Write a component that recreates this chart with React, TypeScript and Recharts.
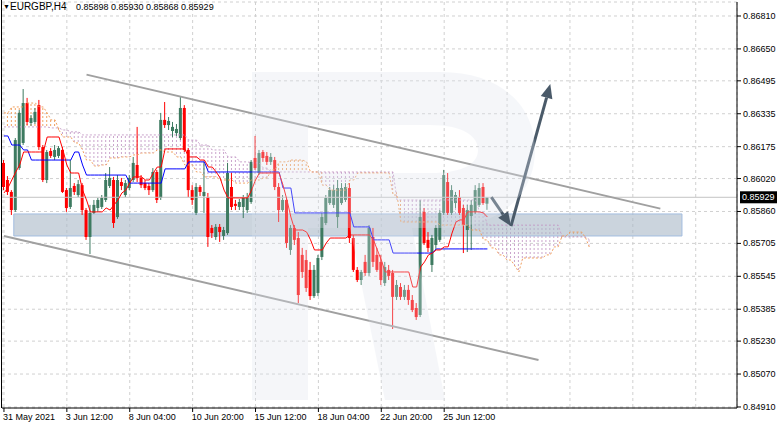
import React from "react";
import {
  Area,
  Bar,
  CartesianGrid,
  ComposedChart,
  Line,
  ReferenceArea,
  ReferenceLine,
  XAxis,
  YAxis,
} from "recharts";

const W = 782;
const H = 428;
const BARS = 187;
const BAND = 735 / BARS;
const FONT = '"Liberation Sans", Arial, sans-serif';

const symbol = "EURGBP,H4";
const lastQuote = [0.85898, 0.8593, 0.85868, 0.85929];
const bidPrice = 0.85929;

const tickBars = [0, 16, 32, 48, 64, 80, 96, 112, 128, 144, 160, 176];
const tickLabels = [
  "31 May 2021",
  "3 Jun 12:00",
  "8 Jun 04:00",
  "10 Jun 20:00",
  "15 Jun 12:00",
  "18 Jun 04:00",
  "22 Jun 20:00",
  "25 Jun 12:00",
  "",
  "",
  "",
  "",
];
const priceTicks = [
  0.8681, 0.8665, 0.86495, 0.86335, 0.86175, 0.8602, 0.8586, 0.85705, 0.85545,
  0.85385, 0.8523, 0.8507, 0.8491,
];

// open, high, low, close per H4 bar
const candles: [number, number, number, number][] = [
  [0.86096, 0.8611, 0.85964, 0.85979],
  [0.86013, 0.86032, 0.8594, 0.85955],
  [0.85955, 0.85964, 0.85843, 0.85867],
  [0.85867, 0.86217, 0.85858, 0.86207],
  [0.86071, 0.86353, 0.86062, 0.86339],
  [0.86193, 0.86455, 0.86183, 0.86387],
  [0.86387, 0.86412, 0.8628, 0.86295],
  [0.8629, 0.86329, 0.86276, 0.86314],
  [0.86295, 0.86363, 0.86285, 0.86344],
  [0.86377, 0.86402, 0.86159, 0.86173],
  [0.86173, 0.86183, 0.86003, 0.86013],
  [0.86013, 0.86159, 0.85998, 0.86149],
  [0.86154, 0.86168, 0.8612, 0.8613],
  [0.86125, 0.86183, 0.8611, 0.86159],
  [0.8613, 0.86178, 0.8612, 0.86168],
  [0.86159, 0.86173, 0.8595, 0.85955],
  [0.85964, 0.85974, 0.85858, 0.85877],
  [0.85882, 0.8611, 0.85872, 0.85974],
  [0.85984, 0.85998, 0.8594, 0.85955],
  [0.8594, 0.86013, 0.8593, 0.85993],
  [0.85988, 0.85998, 0.85843, 0.85867],
  [0.85867, 0.85877, 0.85722, 0.85736],
  [0.85736, 0.85892, 0.85653, 0.85853],
  [0.85853, 0.85916, 0.85848, 0.85892],
  [0.85877, 0.85926, 0.85858, 0.85916],
  [0.85882, 0.8594, 0.85872, 0.85926],
  [0.85916, 0.86047, 0.85906, 0.86013],
  [0.85984, 0.86076, 0.85974, 0.86023],
  [0.86013, 0.86028, 0.8578, 0.85804],
  [0.85833, 0.86037, 0.85824, 0.86013],
  [0.86003, 0.86023, 0.85964, 0.85984],
  [0.8594, 0.86013, 0.8593, 0.85998],
  [0.85974, 0.86037, 0.85964, 0.86023],
  [0.86013, 0.86125, 0.86003, 0.86096],
  [0.86086, 0.86271, 0.86003, 0.86023],
  [0.86023, 0.86037, 0.85974, 0.85988],
  [0.85998, 0.86013, 0.85964, 0.85974],
  [0.85984, 0.85998, 0.8594, 0.85964],
  [0.85964, 0.86071, 0.85955, 0.86052],
  [0.86052, 0.86062, 0.85901, 0.85916],
  [0.85926, 0.86339, 0.85916, 0.86305],
  [0.86305, 0.86392, 0.86266, 0.8628],
  [0.8628, 0.86319, 0.86256, 0.863],
  [0.86251, 0.86295, 0.86222, 0.86271],
  [0.86241, 0.86285, 0.86227, 0.86261],
  [0.86217, 0.86421, 0.86207, 0.86363],
  [0.86363, 0.86377, 0.86149, 0.86159],
  [0.86159, 0.86168, 0.8593, 0.85964],
  [0.85964, 0.85988, 0.85892, 0.85916],
  [0.85853, 0.85998, 0.85843, 0.85979],
  [0.85979, 0.85988, 0.85935, 0.85955],
  [0.85935, 0.86101, 0.85853, 0.85955],
  [0.8593, 0.8595, 0.85688, 0.85736],
  [0.8578, 0.85794, 0.85731, 0.85755],
  [0.85736, 0.85799, 0.85722, 0.85785],
  [0.85785, 0.85799, 0.85712, 0.8576],
  [0.85741, 0.85785, 0.85722, 0.8577],
  [0.85755, 0.86096, 0.85746, 0.86047],
  [0.85979, 0.86047, 0.85867, 0.85882],
  [0.85897, 0.85916, 0.85867, 0.85887],
  [0.85882, 0.85921, 0.85867, 0.85906],
  [0.85882, 0.8594, 0.85828, 0.85926],
  [0.85867, 0.8595, 0.85853, 0.8593],
  [0.85906, 0.8611, 0.85897, 0.86101],
  [0.8612, 0.86227, 0.86062, 0.86071],
  [0.86047, 0.86159, 0.86037, 0.86144],
  [0.86149, 0.86159, 0.86101, 0.8612],
  [0.8613, 0.86149, 0.86086, 0.86101],
  [0.86101, 0.86144, 0.86086, 0.86125],
  [0.8611, 0.86125, 0.85964, 0.85979],
  [0.85979, 0.85998, 0.85809, 0.85867],
  [0.85867, 0.8594, 0.85858, 0.85916],
  [0.85916, 0.8593, 0.85683, 0.85707],
  [0.85673, 0.85794, 0.85649, 0.8578],
  [0.8578, 0.85794, 0.85697, 0.85722],
  [0.85731, 0.8576, 0.85415, 0.85454],
  [0.85649, 0.85683, 0.85537, 0.85566],
  [0.85624, 0.85673, 0.85469, 0.85488],
  [0.85576, 0.85615, 0.8543, 0.85449],
  [0.85449, 0.856, 0.8544, 0.85576],
  [0.85464, 0.85649, 0.85449, 0.85634],
  [0.85639, 0.85853, 0.85624, 0.85833],
  [0.85804, 0.8594, 0.85794, 0.85926],
  [0.85901, 0.85979, 0.85892, 0.85964],
  [0.85892, 0.85988, 0.85877, 0.85964],
  [0.85833, 0.86013, 0.8578, 0.85974],
  [0.85901, 0.85998, 0.85892, 0.85974],
  [0.85916, 0.85998, 0.85906, 0.85979],
  [0.85974, 0.85998, 0.85707, 0.85731],
  [0.85731, 0.85746, 0.85566, 0.85576],
  [0.85576, 0.8559, 0.85517, 0.85527],
  [0.85527, 0.85576, 0.85503, 0.85566],
  [0.85615, 0.85649, 0.85547, 0.85561],
  [0.85561, 0.85794, 0.85547, 0.8578],
  [0.85736, 0.8578, 0.8559, 0.85615],
  [0.85649, 0.85683, 0.85566, 0.85576],
  [0.85615, 0.85649, 0.85503, 0.85527],
  [0.85512, 0.85615, 0.85498, 0.8559],
  [0.85576, 0.856, 0.85527, 0.85547],
  [0.85561, 0.85576, 0.85289, 0.85445],
  [0.85445, 0.85527, 0.8543, 0.85503],
  [0.85493, 0.85512, 0.8543, 0.85445],
  [0.85445, 0.85503, 0.8543, 0.85479],
  [0.85479, 0.85503, 0.85406, 0.8543],
  [0.8543, 0.85454, 0.85371, 0.85381],
  [0.85391, 0.85415, 0.85333, 0.85347],
  [0.85357, 0.85916, 0.85347, 0.85833],
  [0.85858, 0.85877, 0.85697, 0.85707],
  [0.85722, 0.8576, 0.85663, 0.85683],
  [0.856, 0.85746, 0.85566, 0.85731],
  [0.85697, 0.85794, 0.85673, 0.8578],
  [0.85722, 0.85867, 0.85712, 0.85853],
  [0.85853, 0.86062, 0.85843, 0.86037],
  [0.86003, 0.86047, 0.85843, 0.85853],
  [0.85853, 0.85988, 0.85843, 0.85964],
  [0.85901, 0.85955, 0.85877, 0.8594],
  [0.8593, 0.85964, 0.85843, 0.85853],
  [0.85877, 0.85892, 0.85658, 0.85794],
  [0.8577, 0.85892, 0.85663, 0.85867],
  [0.85838, 0.85916, 0.85673, 0.85892],
  [0.85858, 0.85988, 0.85848, 0.85964],
  [0.85892, 0.85998, 0.85882, 0.85974],
  [0.85979, 0.85998, 0.85892, 0.85901],
  [0.85898, 0.8593, 0.85868, 0.85929],
];

// Ichimoku lines, read as [first bar, level] steps
const tenkanSteps: [number, number][] = [
  [0, 0.8595], [1, 0.85974], [2, 0.86013], [3, 0.86052], [4, 0.86086], [5, 0.86149],
  [11, 0.86222], [15, 0.86159], [16, 0.86086], [17, 0.86047], [20, 0.85964], [21, 0.85916],
  [22, 0.85858], [26, 0.85877], [27, 0.85867], [28, 0.85892], [29, 0.85916], [30, 0.8595],
  [31, 0.85964], [32, 0.85998], [33, 0.86028], [36, 0.86013], [38, 0.86047], [39, 0.86076],
  [41, 0.86164], [47, 0.86125], [50, 0.8611], [52, 0.86076], [54, 0.86052], [55, 0.86023],
  [56, 0.85964], [57, 0.85926], [63, 0.85964], [64, 0.86013], [65, 0.86047], [71, 0.85988],
  [72, 0.85916], [73, 0.85833], [74, 0.8577], [77, 0.8576], [78, 0.85722], [79, 0.85673],
  [82, 0.85707], [83, 0.85731], [88, 0.85746], [94, 0.85722], [95, 0.85673], [96, 0.85624],
  [97, 0.85566], [104, 0.85493], [106, 0.8559], [107, 0.85615], [108, 0.85649], [109, 0.85658],
  [110, 0.85673], [112, 0.85688], [114, 0.85755], [115, 0.85809], [116, 0.85819], [118, 0.85858],
  [122, 0.85853], [123, 0.85833],
];
const kijunSteps: [number, number][] = [
  [0, 0.86227], [2, 0.86183], [5, 0.86159], [7, 0.8611], [18, 0.86149], [20, 0.86086],
  [21, 0.86037], [32, 0.85998], [41, 0.86067], [47, 0.86101], [52, 0.86052], [71, 0.85974],
  [74, 0.85853], [89, 0.85785], [94, 0.85722], [99, 0.85658], [110, 0.85678],
];
const spanASteps: [number, number][] = [
  [0, 0.86339], [2, 0.86368], [6, 0.86387], [9, 0.86368], [11, 0.86339], [12, 0.86305],
  [14, 0.86256], [15, 0.86222], [18, 0.86193], [20, 0.86159], [21, 0.8611], [23, 0.86081],
  [25, 0.86086], [27, 0.8612], [30, 0.86125], [33, 0.86135], [35, 0.86144], [39, 0.86159],
  [41, 0.86149], [44, 0.86125], [46, 0.86086], [49, 0.86052], [51, 0.86028], [55, 0.86013],
  [59, 0.85998], [63, 0.86013], [66, 0.86023], [68, 0.86062], [70, 0.86101], [73, 0.8611],
  [77, 0.86101], [78, 0.86052], [81, 0.85988], [83, 0.85964], [88, 0.86013], [90, 0.86047],
  [99, 0.8594], [101, 0.85809], [111, 0.85794], [119, 0.8577], [122, 0.85722], [124, 0.85683],
  [126, 0.85649], [128, 0.85624], [130, 0.85595], [131, 0.85566], [132, 0.85634], [138, 0.85649],
  [140, 0.85688], [142, 0.85741], [144, 0.8576], [148, 0.85731], [149, 0.85683],
];
const spanBSteps: [number, number][] = [
  [0, 0.86271], [12, 0.86266], [15, 0.86256], [17, 0.86247], [20, 0.86232], [47, 0.86207],
  [50, 0.86183], [53, 0.86159], [57, 0.86125], [60, 0.86101], [63, 0.86096], [66, 0.86071],
  [68, 0.86052], [100, 0.85916], [121, 0.85858], [123, 0.85794], [142, 0.85736], [149, 0.85722],
];

// drawn objects: channel, zone, forecast arrows (bar, price)
const channelTop = [
  { x: 21, y: 0.86525 },
  { x: 167, y: 0.85874 },
];
const channelBottom = [
  { x: 0, y: 0.85741 },
  { x: 136, y: 0.85138 },
];
const zone = { from: 3, to: 172, low: 0.85741, high: 0.85848 };
const forecast = [
  { x: 124, y: 0.8593 },
  { x: 129, y: 0.85789 },
  { x: 139, y: 0.86479 },
];

function fromSteps(steps: [number, number][], last: number) {
  const out: (number | null)[] = [];
  let k = 0;
  for (let i = 0; i < BARS; i++) {
    if (i > last) {
      out.push(null);
      continue;
    }
    while (k + 1 < steps.length && steps[k + 1][0] <= i) k++;
    out.push(steps[k][1]);
  }
  return out;
}

const tenkan = fromSteps(tenkanSteps, candles.length - 1);
const kijun = fromSteps(kijunSteps, candles.length - 1);
const spanA = fromSteps(spanASteps, 149);
const spanB = fromSteps(spanBSteps, 149);

const isUp = (i: number) =>
  i >= 0 && spanA[i] != null && (spanA[i] as number) >= (spanB[i] as number);
const isDown = (i: number) =>
  i >= 0 && spanA[i] != null && (spanA[i] as number) < (spanB[i] as number);

const rows = Array.from({ length: BARS }, (_, i) => {
  const c = candles[i];
  const a = spanA[i];
  const b = spanB[i];
  const band = a == null || b == null ? null : [Math.min(a, b), Math.max(a, b)];
  return {
    i,
    o: c ? c[0] : null,
    h: c ? c[1] : null,
    l: c ? c[2] : null,
    c: c ? c[3] : null,
    tenkan: tenkan[i],
    kijun: kijun[i],
    spanA: a,
    spanB: b,
    cloudUp: band && (isUp(i) || isUp(i - 1) || isUp(i + 1)) ? band : null,
    cloudDown: band && (isDown(i) || isDown(i - 1) || isDown(i + 1)) ? band : null,
  };
});

function Candle(props: any) {
  const { x, y, width, height, payload } = props;
  if (payload.o == null || y == null || height == null) return <g />;
  const top = Math.min(y, y + height);
  const span = Math.abs(height);
  const range = payload.h - payload.l || 1e-9;
  const py = (v: number) => top + ((payload.h - v) / range) * span;
  const up = payload.c >= payload.o;
  const color = up ? "#3d7a60" : "#ff0000";
  const cx = x + width / 2;
  const bTop = py(Math.max(payload.o, payload.c));
  const bBot = py(Math.min(payload.o, payload.c));
  return (
    <g>
      <line x1={cx} x2={cx} y1={top} y2={top + span} stroke={color} strokeWidth={1} />
      <rect x={cx - 1.5} y={bTop} width={3} height={Math.max(1, bBot - bTop)} fill={color} />
    </g>
  );
}

function Arrow(props: any) {
  const { x1, y1, x2, y2 } = props;
  const ang = Math.atan2(y2 - y1, x2 - x1);
  const len = 14;
  const half = 6;
  const bx = x2 - len * Math.cos(ang);
  const by = y2 - len * Math.sin(ang);
  const px = -Math.sin(ang) * half;
  const py = Math.cos(ang) * half;
  return (
    <g>
      <line x1={x1} y1={y1} x2={bx} y2={by} stroke="#4a5a69" strokeWidth={3} />
      <polygon
        points={`${x2},${y2} ${bx + px},${by + py} ${bx - px},${by - py}`}
        fill="#4a5a69"
      />
    </g>
  );
}

function TimeTick(props: any) {
  const { x, y, payload } = props;
  const label = tickLabels[tickBars.indexOf(payload.value)];
  if (!label) return <g />;
  return (
    <g>
      <line x1={x} x2={x} y1={y} y2={y + 4} stroke="#000" />
      <text x={x - 1} y={y + 12} fontSize={9} fontFamily={FONT} fill="#000" textAnchor="start">
        {label}
      </text>
    </g>
  );
}

function PriceTick(props: any) {
  const { x, y, payload } = props;
  return (
    <g>
      <line x1={x} x2={x + 4} y1={y} y2={y} stroke="#000" />
      <text x={x + 6} y={y + 3} fontSize={9} fontFamily={FONT} fill="#000" textAnchor="start">
        {Number(payload.value).toFixed(5)}
      </text>
    </g>
  );
}

function BidTag(props: any) {
  const vb = props.viewBox || {};
  const x = (vb.x || 0) + (vb.width || 0) + 3;
  const y = vb.y || 0;
  return (
    <g>
      <rect x={x} y={y - 6} width={37} height={12} fill="#000" />
      <text x={x + 2} y={y + 3} fontSize={9} fontFamily={FONT} fill="#fff">
        {bidPrice.toFixed(5)}
      </text>
    </g>
  );
}

export default function App() {
  return (
    <div
      style={{
        position: "absolute",
        left: 0,
        top: 0,
        width: W,
        height: H,
        background: "#fff",
        overflow: "hidden",
        fontFamily: FONT,
      }}
    >
      <ComposedChart
        width={W}
        height={H}
        data={rows}
        margin={{ top: 2, right: 0, bottom: 0, left: 2 }}
      >
        <defs>
          <pattern id="hatchUp" patternUnits="userSpaceOnUse" x={3} y={0} width={BAND} height={4}>
            <rect x={0} y={0} width={1} height={2} fill="#f0a060" shapeRendering="crispEdges" />
          </pattern>
          <pattern id="hatchDown" patternUnits="userSpaceOnUse" x={3} y={0} width={BAND} height={4}>
            <rect x={0} y={0} width={1} height={2} fill="#c9a3cb" shapeRendering="crispEdges" />
          </pattern>
        </defs>
        <CartesianGrid stroke="#d0d0d0" strokeDasharray="3 3" />
        <XAxis
          dataKey="i"
          type="category"
          ticks={tickBars}
          interval={0}
          height={20}
          tickSize={0}
          tickMargin={0}
          tickLine={false}
          axisLine={{ stroke: "#000" }}
          tick={(p: any) => <TimeTick {...p} />}
        />
        <YAxis
          orientation="right"
          domain={[0.84905, 0.86878]}
          allowDataOverflow
          ticks={priceTicks}
          interval={0}
          width={45}
          tickSize={0}
          tickMargin={0}
          tickLine={false}
          axisLine={{ stroke: "#000" }}
          tick={(p: any) => <PriceTick {...p} />}
        />
        <ReferenceLine y={bidPrice} stroke="#c4c4c4" label={<BidTag />} />
        <Area
          dataKey="cloudDown"
          type="linear"
          stroke="none"
          fill="url(#hatchDown)"
          fillOpacity={1}
          isAnimationActive={false}
        />
        <Area
          dataKey="cloudUp"
          type="linear"
          stroke="none"
          fill="url(#hatchUp)"
          fillOpacity={1}
          isAnimationActive={false}
        />
        <Line dataKey="spanB" stroke="#c9a3cb" strokeDasharray="2 2" dot={false} isAnimationActive={false} />
        <Line dataKey="spanA" stroke="#f0a060" strokeDasharray="2 2" dot={false} isAnimationActive={false} />
        <Line dataKey="kijun" stroke="#0000ff" strokeWidth={1} dot={false} isAnimationActive={false} />
        <Line dataKey="tenkan" stroke="#ff0000" strokeWidth={1} dot={false} isAnimationActive={false} />
        <Bar
          dataKey={(d: any) => (d.o == null ? null : [d.l, d.h])}
          barSize={3}
          shape={(p: any) => <Candle {...p} />}
          isAnimationActive={false}
        />
        <ReferenceArea
          x1={zone.from}
          x2={zone.to}
          y1={zone.low}
          y2={zone.high}
          fill="#a9b7c6"
          fillOpacity={0.6}
          stroke="#a3bde0"
          strokeWidth={1}
        />
        <ReferenceLine segment={channelTop} stroke="#a0a0a0" strokeWidth={2} ifOverflow="visible" />
        <ReferenceLine segment={channelBottom} stroke="#a0a0a0" strokeWidth={2} ifOverflow="visible" />
        <ReferenceLine
          segment={[forecast[0], forecast[1]]}
          ifOverflow="visible"
          shape={(p: any) => <Arrow {...p} />}
        />
        <ReferenceLine
          segment={[forecast[1], forecast[2]]}
          ifOverflow="visible"
          shape={(p: any) => <Arrow {...p} />}
        />
      </ComposedChart>

      <div style={{ position: "absolute", left: 1, top: 0, width: 1, height: 408, background: "#000" }} />

      <svg
        width={W}
        height={H}
        style={{ position: "absolute", left: 0, top: 0, pointerEvents: "none" }}
      >
        <g fill="#dfe4ee" opacity={0.3}>
          <rect x={252} y={72} width={56} height={328} />
          <path
            fillRule="evenodd"
            d="M308,72 L440,72 C500,72 535,105 535,150 C535,195 500,228 440,228 L308,228 Z M308,125 L430,125 C465,125 478,137 478,150 C478,163 465,173 430,173 L308,173 Z"
          />
          <path d="M350,228 L412,228 L445,400 L385,400 Z" />
        </g>
      </svg>

      <div
        style={{
          position: "absolute",
          left: 0,
          top: 1,
          height: 12,
          width: 300,
          color: "#000",
          whiteSpace: "pre",
          lineHeight: "12px",
        }}
      >
        <span style={{ position: "absolute", left: 3, fontSize: 7 }}>▼</span>
        <span style={{ position: "absolute", left: 10, fontSize: 10 }}>{symbol}</span>
        <span style={{ position: "absolute", left: 76, fontSize: 9 }}>
          {lastQuote.map((v) => v.toFixed(5)).join(" ")}
        </span>
      </div>
    </div>
  );
}
